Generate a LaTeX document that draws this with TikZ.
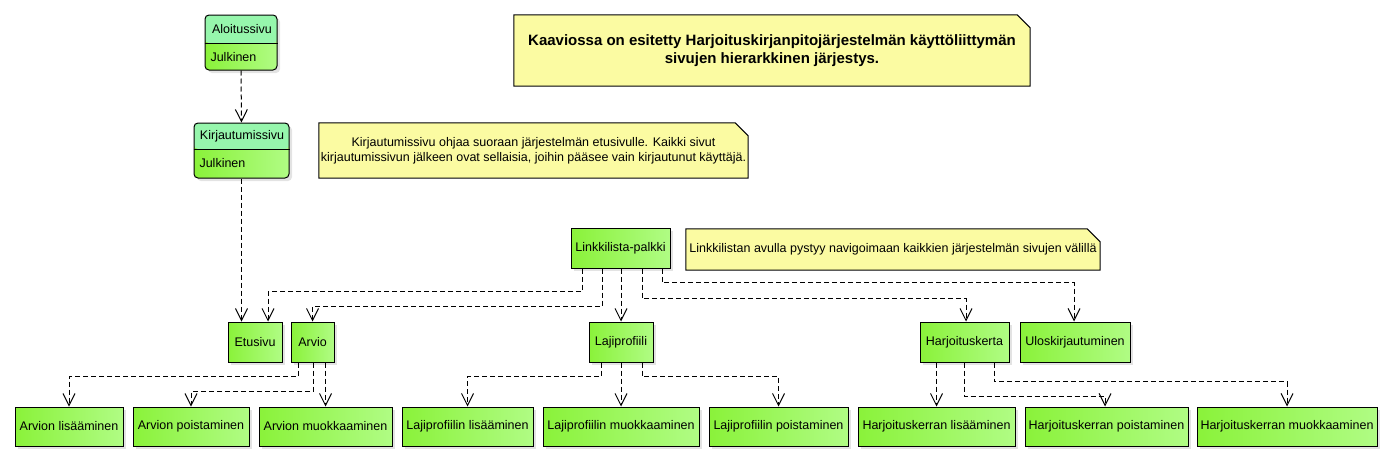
\documentclass[tikz,border=0pt]{standalone}
\usepackage{fontspec}
\setmainfont{Liberation Sans}
\usepackage{tikz}
\usetikzlibrary{arrows.meta}
\usetikzlibrary{shadows}
\definecolor{ColPageA}{RGB}{138,242,58}
\definecolor{ColPageB}{RGB}{176,252,132}
\definecolor{ColHead}{RGB}{150,246,172}
\definecolor{ColNote}{RGB}{251,251,162}
\tikzstyle{PageFont}=[font=\fontsize{12.5}{15}\selectfont]
\tikzstyle{Shadowed}=[drop shadow={shadow xshift=3pt,shadow yshift=-3pt,opacity=.22}]
\tikzstyle{PageNode}=[rectangle,draw=black,line width=1pt,left color=ColPageA,right color=ColPageB,
inner sep=0pt,minimum height=40pt,PageFont,Shadowed]
\tikzstyle{SubNode}=[PageNode,minimum height=39pt]
\tikzset{ClassBox/.style={rectangle,rounded corners=4pt,draw=black,line width=1pt,left color=ColPageA,
right color=ColPageB,inner sep=0pt,Shadowed,path picture={\fill[ColHead](path picture bounding box.north west)
rectangle([yshift=-#1]path picture bounding box.north east);}}}
\tikzstyle{NoteNode}=[rectangle,fill=ColNote,inner sep=0pt,path picture={\fill[white]([xshift=-13pt]path picture bounding box.north east)
--(path picture bounding box.north east)--([yshift=-13pt]path picture bounding box.north east)--cycle;}]
\tikzstyle{NoteEdge}=[draw=black,line width=1pt]
\tikzstyle{EdgeDep}=[line width=1pt,dash pattern=on 5pt off 3pt,-{Straight Barb[length=12pt,width=12pt]}]

\begin{document}
\begin{tikzpicture}[x=1pt,y=-1pt]
        \useasboundingbox(0,0)rectangle(1393,461);
        % public pages
        \node[ClassBox=28pt,minimum width=72pt,minimum height=55pt](alo)at(241,42.5){};
        \draw[line width=1pt](alo.west|-0,43)--(alo.east|-0,43);
        \node[PageFont](aloTitle)at(242,29){Aloitussivu};
        \node[PageFont,anchor=west](aloTag)at(207,57){Julkinen};
        \node[ClassBox=26pt,minimum width=95pt,minimum height=55pt](kirj)at(241.5,150.5){};
        \draw[line width=1pt](kirj.west|-0,149)--(kirj.east|-0,149);
        \node[PageFont](kirjTitle)at(242,136){Kirjautumissivu};
        \node[PageFont,anchor=west](kirjTag)at(196,163){Julkinen};
        % notes
        \node[NoteNode,minimum width=516pt,minimum height=71pt,font=\fontsize{15}{17.5}\selectfont\bfseries,align=center](noteTitle)at(772,50.5)
            {Kaaviossa on esitetty Harjoituskirjanpitoj\"arjestelm\"an k\"aytt\"oliittym\"an\\sivujen hierarkkinen j\"arjestys.};
        \draw[NoteEdge](noteTitle.south west)--(noteTitle.north west)--([xshift=-13pt]noteTitle.north east)
            --([yshift=-13pt]noteTitle.north east)--(noteTitle.south east)--cycle;
        \node[NoteNode,minimum width=429pt,minimum height=55pt,PageFont,align=center](noteLogin)at(533.5,150.5)
            {Kirjautumissivu ohjaa suoraan j\"arjestelm\"an etusivulle. Kaikki sivut\\kirjautumissivun j\"alkeen ovat sellaisia, joihin p\"a\"asee vain kirjautunut k\"aytt\"aj\"a.};
        \draw[NoteEdge](noteLogin.south west)--(noteLogin.north west)--([xshift=-13pt]noteLogin.north east)
            --([yshift=-13pt]noteLogin.north east)--(noteLogin.south east)--cycle;
        \node[NoteNode,minimum width=414pt,minimum height=41pt,PageFont](noteLinks)at(893,249.5)
            {Linkkilistan avulla pystyy navigoimaan kaikkien j\"arjestelm\"an sivujen v\"alill\"a};
        \draw[NoteEdge](noteLinks.south west)--(noteLinks.north west)--([xshift=-13pt]noteLinks.north east)
            --([yshift=-13pt]noteLinks.north east)--(noteLinks.south east)--cycle;
        % pages
        \node[PageNode,minimum width=99pt](link)at(620.5,248){Linkkilista-palkki};
        \node[PageNode,minimum width=54pt](etus)at(255,342){Etusivu};
        \node[PageNode,minimum width=43pt](arvio)at(312.5,342){Arvio};
        \node[PageNode,minimum width=64pt](laji)at(621,342){Lajiprofiili};
        \node[PageNode,minimum width=89pt](harj)at(964.5,342){Harjoituskerta};
        \node[PageNode,minimum width=110pt](ulos)at(1075,342){Uloskirjautuminen};
        \node[SubNode,minimum width=108pt](arvLis)at(69,426.5){Arvion lis\"a\"aminen};
        \node[SubNode,minimum width=116pt](arvPois)at(191,426.5){Arvion poistaminen};
        \node[SubNode,minimum width=133pt](arvMuok)at(325.5,426.5){Arvion muokkaaminen};
        \node[SubNode,minimum width=131pt](lajLis)at(467.5,426.5){Lajiprofiilin lis\"a\"aminen};
        \node[SubNode,minimum width=156pt](lajMuok)at(621,426.5){Lajiprofiilin muokkaaminen};
        \node[SubNode,minimum width=139pt](lajPois)at(778.5,426.5){Lajiprofiilin poistaminen};
        \node[SubNode,minimum width=157pt](harjLis)at(936.5,426.5){Harjoituskerran lis\"a\"aminen};
        \node[SubNode,minimum width=163pt](harjPois)at(1106.5,426.5){Harjoituskerran poistaminen};
        \node[SubNode,minimum width=180pt](harjMuok)at(1287,426.5){Harjoituskerran muokkaaminen};
        % links
        \draw[EdgeDep](alo.south)--(kirj.north);
        \draw[EdgeDep](kirj.south)--(kirj.south|-etus.north);
        \draw[EdgeDep]([xshift=-38.5pt]link.south)--++(0,23)-|([xshift=13pt]etus.north);
        \draw[EdgeDep]([xshift=-18.5pt]link.south)--++(0,38)-|(arvio.north);
        \draw[EdgeDep](laji.north|-link.south)--(laji.north);
        \draw[EdgeDep]([xshift=21.5pt]link.south)--++(0,30)-|([xshift=1.5pt]harj.north);
        \draw[EdgeDep]([xshift=41.5pt]link.south)--++(0,14)-|([xshift=-1pt]ulos.north);
        \draw[EdgeDep]([xshift=-14.5pt]arvio.south)--++(0,14)-|(arvLis.north);
        \draw[EdgeDep]([xshift=0.5pt]arvio.south)--++(0,29)-|(arvPois.north);
        \draw[EdgeDep](arvMuok.north|-arvio.south)--(arvMuok.north);
        \draw[EdgeDep]([xshift=-20pt]laji.south)--++(0,14)-|(lajLis.north);
        \draw[EdgeDep](laji.south)--(lajMuok.north);
        \draw[EdgeDep]([xshift=21pt]laji.south)--++(0,14)-|(lajPois.north);
        \draw[EdgeDep](harjLis.north|-harj.south)--(harjLis.north);
        \draw[EdgeDep](harj.south)--++(0,34)-|([xshift=-1.5pt]harjPois.north);
        \draw[EdgeDep]([xshift=29.5pt]harj.south)--++(0,19)-|(harjMuok.north);
    \end{tikzpicture}
\end{document}
